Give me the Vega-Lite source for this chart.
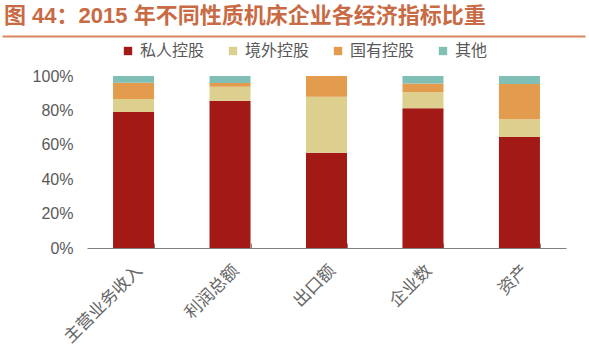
{
  "$schema": "https://vega.github.io/schema/vega-lite/v6.json",
  "autosize": "none",
  "width": 479,
  "height": 172,
  "padding": {"left": 87, "top": 76, "right": 23, "bottom": 106},
  "background": "white",
  "title": {
    "text": "图 44：2015 年不同性质机床企业各经济指标比重",
    "anchor": "start",
    "frame": "group",
    "dx": -83,
    "offset": 8,
    "font": "Liberation Sans, Noto Sans CJK SC",
    "fontSize": 22,
    "fontWeight": "bold",
    "color": "#C86A43"
  },
  "config": {
    "view": {"stroke": null},
    "font": "Liberation Sans, Noto Sans CJK SC"
  },
  "layer": [
    {
      "data": {
        "values": [
          {"cat": "主营业务收入", "type": "私人控股", "o": 1, "v": 0.79},
          {"cat": "主营业务收入", "type": "境外控股", "o": 2, "v": 0.077},
          {"cat": "主营业务收入", "type": "国有控股", "o": 3, "v": 0.094},
          {"cat": "主营业务收入", "type": "其他", "o": 4, "v": 0.039},
          {"cat": "利润总额", "type": "私人控股", "o": 1, "v": 0.856},
          {"cat": "利润总额", "type": "境外控股", "o": 2, "v": 0.082},
          {"cat": "利润总额", "type": "国有控股", "o": 3, "v": 0.022},
          {"cat": "利润总额", "type": "其他", "o": 4, "v": 0.04},
          {"cat": "出口额", "type": "私人控股", "o": 1, "v": 0.554},
          {"cat": "出口额", "type": "境外控股", "o": 2, "v": 0.326},
          {"cat": "出口额", "type": "国有控股", "o": 3, "v": 0.12},
          {"cat": "出口额", "type": "其他", "o": 4, "v": 0.0},
          {"cat": "企业数", "type": "私人控股", "o": 1, "v": 0.812},
          {"cat": "企业数", "type": "境外控股", "o": 2, "v": 0.095},
          {"cat": "企业数", "type": "国有控股", "o": 3, "v": 0.05},
          {"cat": "企业数", "type": "其他", "o": 4, "v": 0.043},
          {"cat": "资产", "type": "私人控股", "o": 1, "v": 0.645},
          {"cat": "资产", "type": "境外控股", "o": 2, "v": 0.103},
          {"cat": "资产", "type": "国有控股", "o": 3, "v": 0.205},
          {"cat": "资产", "type": "其他", "o": 4, "v": 0.047}
        ]
      },
      "mark": {"type": "bar"},
      "encoding": {
        "x": {
          "field": "cat",
          "type": "nominal",
          "sort": null,
          "scale": {"paddingInner": 0.575, "paddingOuter": 0.27},
          "axis": {
            "title": null,
            "labelAngle": -45,
            "labelAlign": "right",
            "labelBaseline": "top",
            "labelFontSize": 17,
            "labelColor": "#666666",
            "labelPadding": 19,
            "tickBand": "extent",
            "ticks": true,
            "tickSize": -5,
            "tickColor": "#7f7f7f",
            "domainColor": "#7f7f7f",
            "domainWidth": 1,
            "grid": false
          }
        },
        "y": {
          "field": "v",
          "type": "quantitative",
          "stack": "zero",
          "scale": {"domain": [0, 1]},
          "axis": {
            "title": null,
            "format": ".0%",
            "values": [0, 0.2, 0.4, 0.6, 0.8, 1],
            "labelFontSize": 16,
            "labelColor": "#595959",
            "labelPadding": 14,
            "ticks": false,
            "domain": false,
            "grid": false
          }
        },
        "color": {
          "field": "type",
          "type": "nominal",
          "scale": {
            "domain": ["私人控股", "境外控股", "国有控股", "其他"],
            "range": ["#A21916", "#DDD08E", "#E39B4E", "#7FBFB5"]
          },
          "legend": {
            "title": null,
            "orient": "none",
            "legendX": 33,
            "legendY": -33,
            "direction": "horizontal",
            "symbolType": "square",
            "symbolSize": 70,
            "symbolStrokeWidth": 0,
            "labelFontSize": 16,
            "labelColor": "#595959",
            "labelOffset": 4,
            "columnPadding": 20
          }
        },
        "order": {"field": "o", "type": "quantitative"}
      }
    },
    {
      "data": {"values": [{"a": 0}, {"a": 1}]},
      "mark": {"type": "rule", "opacity": 0},
      "encoding": {
        "x": {
          "field": "a",
          "type": "quantitative",
          "scale": {"domain": [0, 1], "range": [-85, 498]},
          "axis": {
            "orient": "top",
            "offset": 40,
            "title": null,
            "labels": false,
            "ticks": false,
            "grid": false,
            "domainColor": "#D9865F",
            "domainWidth": 2
          }
        }
      }
    }
  ],
  "resolve": {"scale": {"x": "independent"}}
}
